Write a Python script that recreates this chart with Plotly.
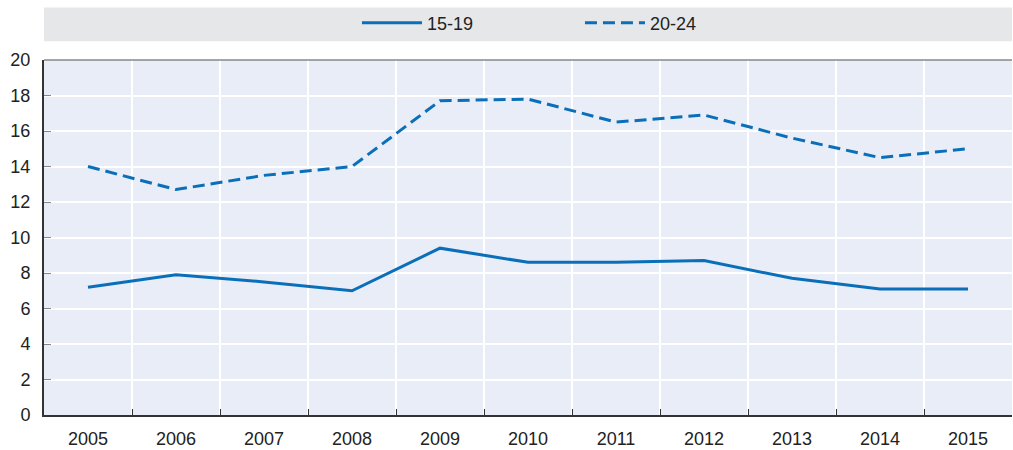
import plotly.graph_objects as go

years = [2005, 2006, 2007, 2008, 2009, 2010, 2011, 2012, 2013, 2014, 2015]
age_15_19 = [7.2, 7.9, 7.5, 7.0, 9.4, 8.6, 8.6, 8.7, 7.7, 7.1, 7.1]
age_20_24 = [14.0, 12.7, 13.5, 14.0, 17.7, 17.8, 16.5, 16.9, 15.6, 14.5, 15.0]
y_ticks = [0, 2, 4, 6, 8, 10, 12, 14, 16, 18, 20]

BLUE = "#0a6fb8"
FONT = "Liberation Sans Narrow, Arial Narrow, Liberation Sans, sans-serif"

fig = go.Figure()
fig.add_trace(go.Scatter(x=years, y=age_15_19, mode="lines", name="15-19",
                         line=dict(color=BLUE, width=3)))
fig.add_trace(go.Scatter(x=years, y=age_20_24, mode="lines", name="20-24",
                         line=dict(color=BLUE, width=3, dash="12px,6px")))

fig.update_layout(
    width=1013, height=450,
    margin=dict(l=44, r=1, t=60, b=33),
    paper_bgcolor="white",
    plot_bgcolor="#e9edf7",
    font=dict(family=FONT, size=18, color="#222222"),
    showlegend=True,
    legend=dict(orientation="h", x=0.3233, xanchor="left", y=1.104, yanchor="middle",
                bgcolor="rgba(0,0,0,0)", font=dict(size=18),
                entrywidth=148, entrywidthmode="pixels", itemwidth=60),
    shapes=[dict(type="rect", xref="paper", yref="paper", x0=0, x1=1,
                 y0=1.053, y1=1.148, fillcolor="#e6e7e9", line=dict(width=0), layer="below")],
)

fig.update_xaxes(
    range=[2004.5, 2015.5], tickmode="array", tickvals=years,
    ticktext=[str(y) for y in years],
    showgrid=False, showline=True, linecolor="#333333", linewidth=2,
    ticks="", zeroline=False, ticklabelstandoff=6,
    minor=dict(tickmode="array", tickvals=[y + 0.5 for y in years[:-1]],
               showgrid=True, gridcolor="white", gridwidth=1.5,
               ticks="inside", ticklen=6, tickcolor="#333333"),
    tickfont=dict(size=18),
)
fig.update_yaxes(
    range=[0, 20], tickmode="array", tickvals=y_ticks,
    showgrid=True, gridcolor="white", gridwidth=1.5,
    showline=True, linecolor="#333333", linewidth=2,
    ticks="inside", ticklen=7, tickcolor="#888888", ticklabelstandoff=8,
    zeroline=False, tickfont=dict(size=18), mirror=False,
)
fig.add_shape(type="line", xref="paper", yref="paper", x0=0, x1=1, y0=1, y1=1,
              line=dict(color="#888888", width=1.5))

fig.write_html("out.html", config={"displayModeBar": False},
               post_script="document.body.style.margin='0';")
